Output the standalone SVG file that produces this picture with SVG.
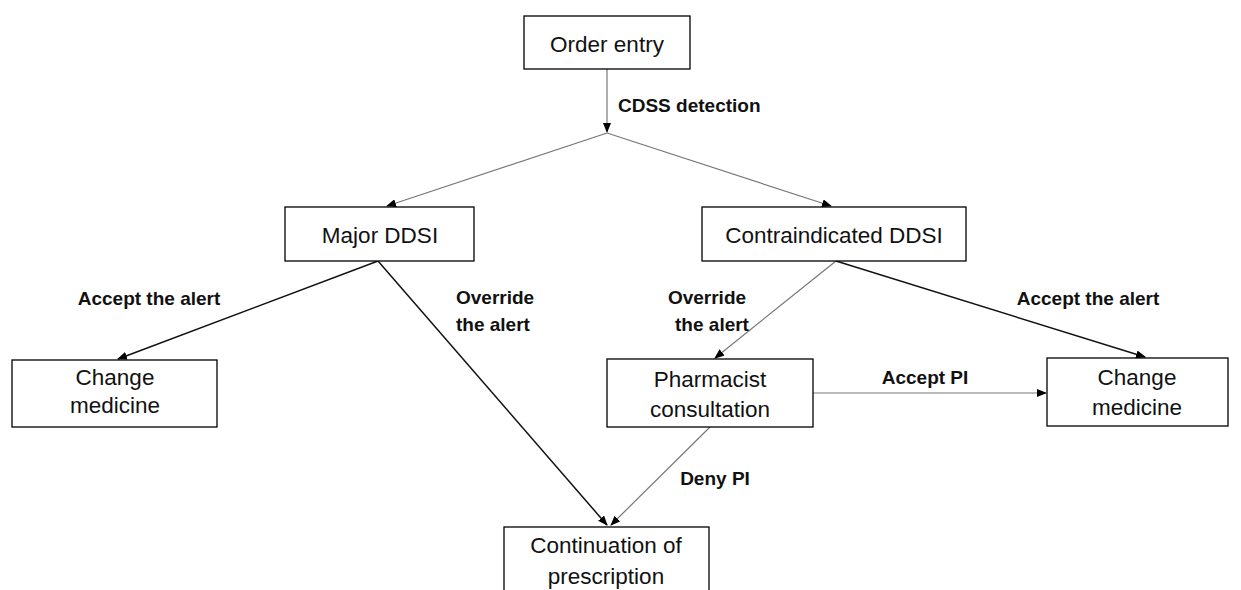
<svg xmlns="http://www.w3.org/2000/svg" width="1241" height="590" viewBox="0 0 1241 590">
<style>
.box{fill:#fff;stroke:#000;stroke-width:1.3}
.t{font-family:"Liberation Sans",Arial,sans-serif;font-size:22.5px;fill:#111;text-anchor:middle}
.l{font-family:"Liberation Sans",Arial,sans-serif;font-size:19px;font-weight:bold;fill:#111}
.g{stroke:#777;stroke-width:1.2;fill:none}
.k{stroke:#111;stroke-width:1.5;fill:none}
</style>
<defs>
<marker id="ah" markerWidth="10" markerHeight="8" refX="9" refY="4" orient="auto" markerUnits="userSpaceOnUse">
<path d="M0,0 L10,4 L0,8 z" fill="#000"/>
</marker>
</defs>
<rect width="1241" height="590" fill="#fff"/>
<g id="connectors">
<line class="g" x1="607" y1="69" x2="607" y2="132" marker-end="url(#ah)"/>
<line class="g" x1="607" y1="133" x2="387" y2="206" marker-end="url(#ah)"/>
<line class="g" x1="607" y1="133" x2="831" y2="206" marker-end="url(#ah)"/>
<line class="k" x1="378" y1="261" x2="118" y2="359" marker-end="url(#ah)"/>
<line class="k" x1="378" y1="261" x2="607" y2="525" marker-end="url(#ah)"/>
<line class="g" x1="836" y1="261" x2="715" y2="358" marker-end="url(#ah)"/>
<line class="k" x1="836" y1="261" x2="1145" y2="357" marker-end="url(#ah)"/>
<line class="g" x1="813" y1="393" x2="1046" y2="393" marker-end="url(#ah)"/>
<line class="g" x1="710" y1="427" x2="611" y2="525" marker-end="url(#ah)"/>
</g>
<g id="labels">
<text class="l" x="618" y="112">CDSS detection</text>
<text class="l" x="149" y="305" text-anchor="middle">Accept the alert</text>
<text class="l" x="456" y="304">Override</text>
<text class="l" x="456" y="331">the alert</text>
<text class="l" x="707" y="304" text-anchor="middle">Override</text>
<text class="l" x="712" y="331" text-anchor="middle">the alert</text>
<text class="l" x="1088" y="305" text-anchor="middle">Accept the alert</text>
<text class="l" x="925" y="384" text-anchor="middle">Accept PI</text>
<text class="l" x="715" y="485" text-anchor="middle">Deny PI</text>
</g>
<g id="order-entry">
<rect class="box" x="524" y="16" width="166" height="53"/>
<text class="t" x="607" y="52">Order entry</text>
</g>
<g id="major-ddsi">
<rect class="box" x="285" y="207" width="189" height="54"/>
<text class="t" x="380" y="243">Major DDSI</text>
</g>
<g id="contraindicated-ddsi">
<rect class="box" x="702" y="207" width="264" height="54"/>
<text class="t" x="834" y="243">Contraindicated DDSI</text>
</g>
<g id="change-medicine-left">
<rect class="box" x="12" y="360" width="205" height="67"/>
<text class="t" x="115" y="385">Change</text>
<text class="t" x="115" y="413">medicine</text>
</g>
<g id="pharmacist">
<rect class="box" x="607" y="359" width="206" height="68"/>
<text class="t" x="710" y="387">Pharmacist</text>
<text class="t" x="710" y="417">consultation</text>
</g>
<g id="change-medicine-right">
<rect class="box" x="1047" y="358" width="181" height="68"/>
<text class="t" x="1137" y="385">Change</text>
<text class="t" x="1137" y="415">medicine</text>
</g>
<g id="continuation">
<rect class="box" x="504" y="527" width="205" height="80"/>
<text class="t" x="606" y="553">Continuation of</text>
<text class="t" x="606" y="584">prescription</text>
</g>
</svg>
